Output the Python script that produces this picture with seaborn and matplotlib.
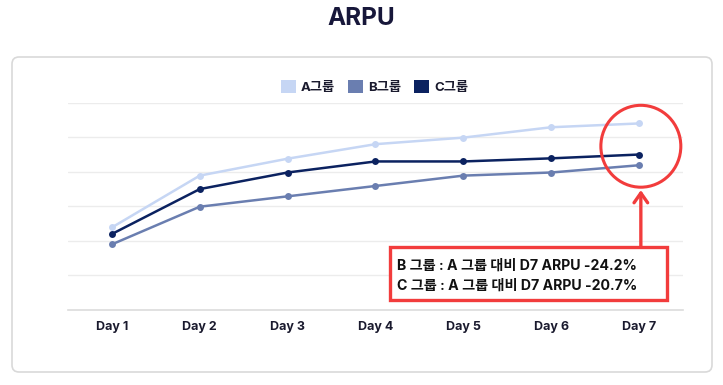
import numpy as np
import pandas as pd
import matplotlib
matplotlib.use('Agg')
import matplotlib.pyplot as plt
import seaborn as sns
from matplotlib.patches import FancyBboxPatch, Ellipse, Patch

# ---- data (grid units) ----
days = ['Day 1', 'Day 2', 'Day 3', 'Day 4', 'Day 5', 'Day 6', 'Day 7']
grp_a = [2.39, 3.89, 4.38, 4.80, 4.99, 5.29, 5.40]
grp_b = [1.90, 2.99, 3.29, 3.59, 3.89, 3.98, 4.19]
grp_c = [2.20, 3.50, 3.98, 4.30, 4.30, 4.39, 4.50]
groups = ['A그룹', 'B그룹', 'C그룹']
colors = ['#c6d6f4', '#6a7eb0', '#0b2260']
note_lines = ['B 그룹 : A 그룹 대비 D7 ARPU -24.2%',
              'C 그룹 : A 그룹 대비 D7 ARPU -20.7%']

df = pd.DataFrame({'day': days * 3,
                   'value': grp_a + grp_b + grp_c,
                   'group': [g for g in groups for _ in days]})

sns.set_style('white')
plt.rcParams['font.family'] = ['Inter', 'Noto Sans CJK KR', 'DejaVu Sans']

fig = plt.figure(figsize=(7.23, 3.85), dpi=100)

# card background
card = FancyBboxPatch((0.12, 0.13), 7.0, 3.15,
                      boxstyle='round,pad=0,rounding_size=0.07',
                      transform=fig.dpi_scale_trans, facecolor='white',
                      edgecolor='#d9d9d9', linewidth=1.2, zorder=-10)
fig.patches.append(card)

fig.text(0.5, 0.952, 'ARPU', ha='center', va='center', fontsize=17.5,
         fontweight='bold', color='#17173a')

ax = fig.add_axes([0.094, 0.1948, 0.8507, 0.5384])
ax.set_facecolor('none')
sns.lineplot(data=df, x='day', y='value', hue='group', palette=colors,
             marker='o', markersize=5, markeredgewidth=0, linewidth=1.8,
             sort=False, ax=ax, legend=False)

ax.set_xlim(-0.5, 6.5)
ax.set_ylim(0, 6)
ax.set_yticks(np.arange(1, 7))
ax.set_yticklabels([])
ax.tick_params(axis='y', length=0)
ax.tick_params(axis='x', length=0, pad=8)
ax.grid(axis='y', color='#ececec', linewidth=1)
ax.set_xlabel('')
ax.set_ylabel('')
for lbl in ax.get_xticklabels():
    lbl.set_fontweight('bold')
    lbl.set_fontsize(9)
    lbl.set_color('#1a1a2e')
for s in ['top', 'right', 'left']:
    ax.spines[s].set_visible(False)
ax.spines['bottom'].set_color('#dcdcdc')
ax.spines['bottom'].set_linewidth(1.2)

# legend
handles = [Patch(facecolor=c, edgecolor='none') for c in colors]
leg = fig.legend(handles, groups, loc='center', bbox_to_anchor=(0.518, 0.773),
                 ncol=3, frameon=False, handlelength=1.1, handleheight=1.1,
                 handletextpad=0.4, columnspacing=1.0,
                 prop={'weight': 'bold', 'size': 9.5})
for t in leg.get_texts():
    t.set_color('#1a1a2e')

# highlight around Day 7
ell = Ellipse((6.02, 4.74), 0.91, 2.37, fill=False, edgecolor='#f23c3c',
              linewidth=2.2, zorder=5, clip_on=False)
ax.add_patch(ell)
ax.annotate('', xy=(6.02, 3.47), xytext=(6.02, 1.82),
            arrowprops=dict(arrowstyle='->,head_length=0.5,head_width=0.35',
                            color='#f23c3c', lw=2.4,
                            mutation_scale=14, shrinkA=0, shrinkB=0),
            zorder=5)

# note box
box = FancyBboxPatch((390 / 723, (385 - 300) / 385), 277 / 723, 53 / 385,
                     boxstyle='square,pad=0', transform=fig.transFigure,
                     facecolor='white', edgecolor='#f23c3c', linewidth=2.4,
                     zorder=6)
fig.patches.append(box)
fig.text(397 / 723, (385 - 266) / 385, note_lines[0], ha='left', va='center',
         fontsize=10.2, fontweight='bold', color='#111111', zorder=7)
fig.text(397 / 723, (385 - 286) / 385, note_lines[1], ha='left', va='center',
         fontsize=10.2, fontweight='bold', color='#111111', zorder=7)

fig.savefig('out.png', dpi=100)
